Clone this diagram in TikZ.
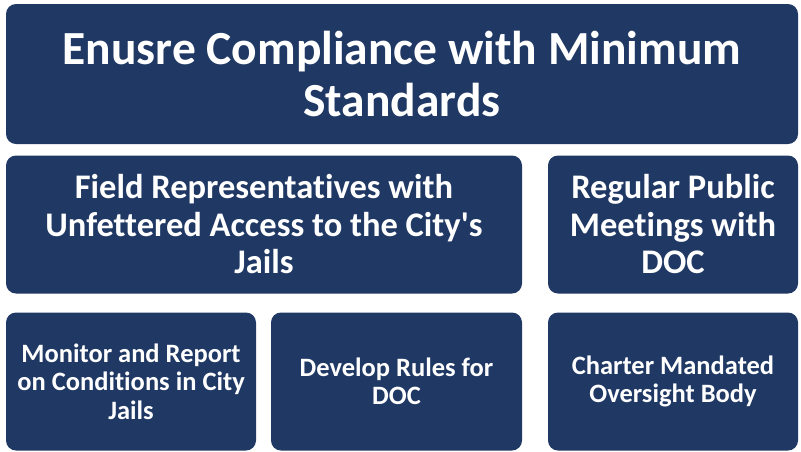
\documentclass[tikz,border=0pt]{standalone}
\usepackage{fontspec}
\setmainfont[Ligatures={NoCommon,TeXOff}]{Carlito}
\definecolor{navy}{HTML}{203864}
\begin{document}
\begin{tikzpicture}[x=1pt,y=-1pt,
  box/.style={fill=navy,rounded corners=10pt,text=white,align=center,inner sep=0pt,minimum height=138pt},
  big/.style={font=\fontsize{47.5}{52}\selectfont\bfseries},
  mid/.style={font=\fontsize{34.5}{37.5}\selectfont\bfseries},
  small/.style={font=\fontsize{26.5}{28.3}\selectfont\bfseries}]
\useasboundingbox (0,0) rectangle (801,451);
% goal
\node[box,big,minimum width=792pt,minimum height=140pt] (goal) at (402,74) {Enusre Compliance with Minimum\\Standards};
% second row
\node[box,mid,minimum width=516pt] (field) at (264,224.5) {Field Representatives with\\Unfettered Access to the City's\\Jails};
\node[box,mid,minimum width=250pt] (meet) at (673,224.5) {Regular Public\\Meetings with\\DOC};
% third row
\foreach \x/\w/\name/\txt in {131/250/monitor/{Monitor and Report\\on Conditions in City\\Jails},
    396.5/251/rules/{Develop Rules for\\DOC},
    673/250/charter/{Charter Mandated\\Oversight Body}}
{
    \node[box,small,minimum width=\w pt] (\name) at (\x,381.5) {\txt};
}
\end{tikzpicture}
\end{document}
